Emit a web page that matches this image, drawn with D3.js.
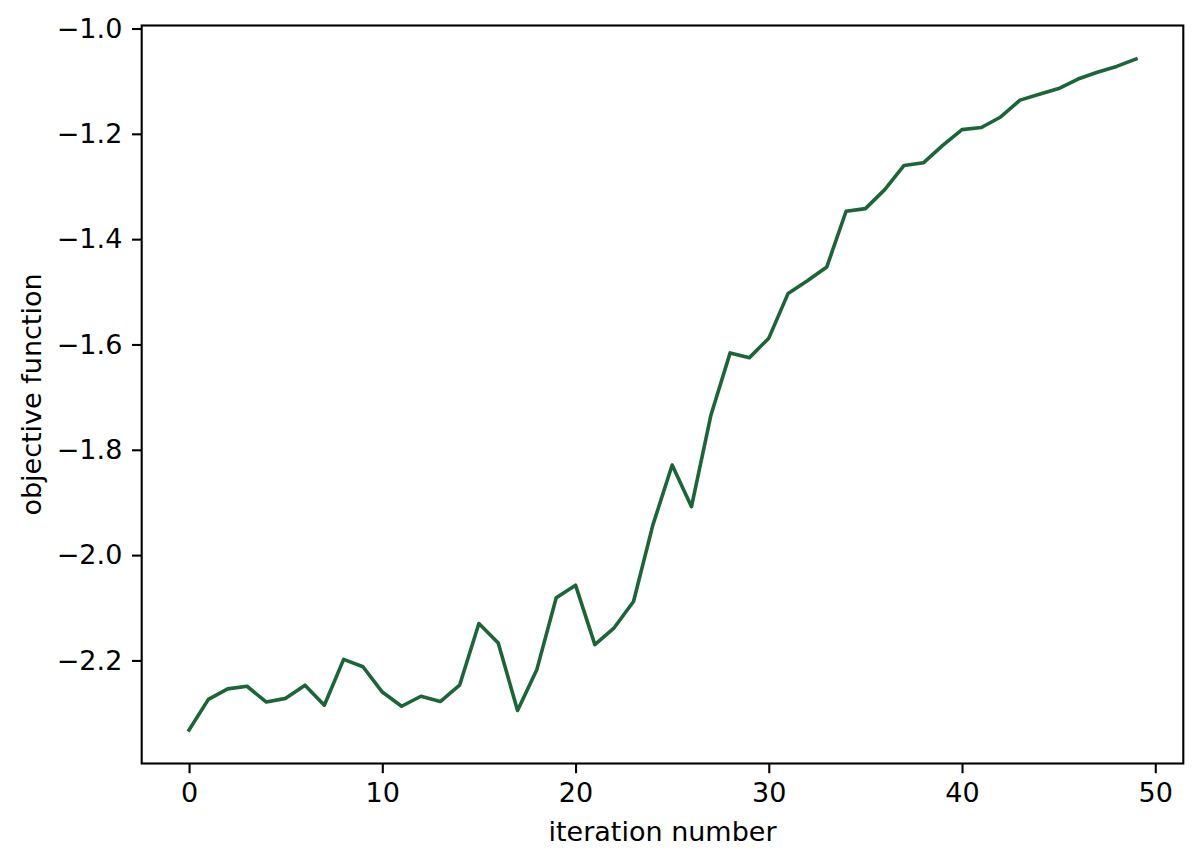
<!DOCTYPE html>
<html>
<head>
<meta charset="utf-8">
<script src="https://cdn.jsdelivr.net/npm/d3@7"></script>
<style>
  html, body { margin: 0; padding: 0; background: #fff; }
  svg text { font-family: "DejaVu Sans", sans-serif; fill: #000; }
</style>
</head>
<body>
<div id="chart"></div>
<script>
// objective value per iteration
const iterations = d3.range(50);
const objective = [
  -2.332, -2.274, -2.254, -2.249, -2.279, -2.272, -2.247, -2.285, -2.198, -2.212,
  -2.260, -2.287, -2.268, -2.278, -2.247, -2.130, -2.167, -2.295, -2.217, -2.081,
  -2.057, -2.170, -2.138, -2.088, -1.943, -1.829, -1.908, -1.735, -1.616, -1.625,
  -1.588, -1.503, -1.479, -1.453, -1.347, -1.342, -1.306, -1.260, -1.255, -1.222,
  -1.192, -1.188, -1.168, -1.136, -1.125, -1.114, -1.096, -1.083, -1.072, -1.058
];
const xTicks = [0, 10, 20, 30, 40, 50];
const yTicks = [-2.2, -2.0, -1.8, -1.6, -1.4, -1.2, -1.0];

const W = 1202, H = 868;
const margin = { top: 25.5, right: 18.7, bottom: 104.5, left: 141.7 };
const width = W - margin.left - margin.right,
  height = H - margin.top - margin.bottom;
const fontSize = "27px";

const svg = d3.select("#chart").append("svg")
  .attr("width", W)
  .attr("height", H);

const g = svg.append("g")
  .attr("transform", `translate(${margin.left},${margin.top})`);

// matplotlib-style 5% padding on both axes
const xPad = (iterations[iterations.length - 1] - iterations[0]) * 0.05;
const x = d3.scaleLinear()
  .domain([iterations[0] - xPad, iterations[iterations.length - 1] + xPad])
  .range([0, width]);

const [yMin, yMax] = d3.extent(objective);
const yPad = (yMax - yMin) * 0.05;
const y = d3.scaleLinear()
  .domain([yMin - yPad, yMax + yPad])
  .range([height, 0]);

const fmt = d => (d < 0 ? "\u2212" : "") + Math.abs(d).toFixed(1);

// axes
const xAxis = g.append("g")
  .attr("transform", `translate(0,${height})`)
  .call(d3.axisBottom(x).tickValues(xTicks).tickSize(9.7).tickPadding(9.7).tickFormat(d3.format("d")));

const yAxis = g.append("g")
  .call(d3.axisLeft(y).tickValues(yTicks).tickSize(9.7).tickPadding(9.7).tickFormat(fmt));

[xAxis, yAxis].forEach(ax => {
  ax.select(".domain").remove();
  ax.selectAll(".tick line").attr("stroke", "#000").attr("stroke-width", 2.1);
  ax.selectAll(".tick text").style("font-size", fontSize);
});

// line
const line = d3.line()
  .x((d, i) => x(iterations[i]))
  .y(d => y(d));

g.append("path")
  .datum(objective)
  .attr("fill", "none")
  .attr("stroke", "#1a6636")
  .attr("stroke-width", 3.6)
  .attr("stroke-linejoin", "round")
  .attr("stroke-linecap", "square")
  .attr("d", line);

// frame
g.append("rect")
  .attr("width", width)
  .attr("height", height)
  .attr("fill", "none")
  .attr("stroke", "#000")
  .attr("stroke-width", 2.1);

// labels
g.append("text")
  .attr("x", width / 2)
  .attr("y", height + 77.5)
  .attr("text-anchor", "middle")
  .style("font-size", fontSize)
  .text("iteration number");

g.append("text")
  .attr("transform", "rotate(-90)")
  .attr("x", -height / 2)
  .attr("y", -margin.left + 41)
  .attr("text-anchor", "middle")
  .style("font-size", fontSize)
  .text("objective function");
</script>
</body>
</html>
